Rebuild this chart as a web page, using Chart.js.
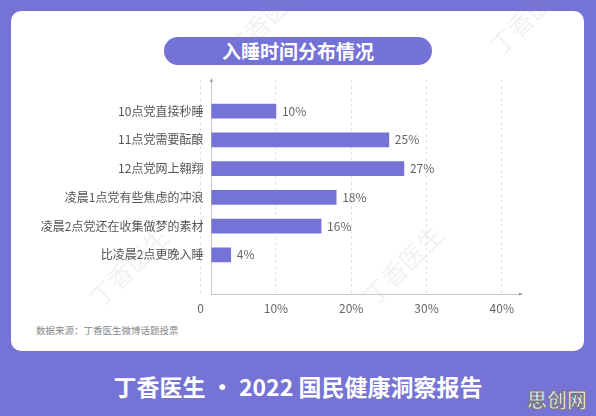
<!DOCTYPE html>
<html>
<head>
<meta charset="utf-8">
<script src="https://cdn.jsdelivr.net/npm/chart.js@4"></script>
<style>
  html, body { margin: 0; padding: 0; }
  body {
    width: 596px; height: 416px; overflow: hidden; position: relative;
    background: #7573d5;
    font-family: "Noto Sans CJK SC", "Noto Sans", sans-serif;
  }
  #card {
    position: absolute; left: 11px; top: 11px; width: 573px; height: 340px;
    background: #fff; border-radius: 10px;
  }
  #pill {
    position: absolute; left: 164px; top: 37px; width: 268px; height: 28px;
    background: #7472d6; border-radius: 14px; color: #fff;
    font-weight: bold; font-size: 19px; line-height: 28px; text-align: center;
  }
  .wm {
    position: absolute; font-size: 25px; color: rgba(150,150,150,0.13);
    transform: rotate(-45deg); white-space: nowrap;
  }
  #source {
    position: absolute; left: 36px; top: 323px; font-size: 9.5px; color: #888;
  }
  #footer {
    position: absolute; left: 0; width: 596px; top: 369px; text-align: center;
    color: #fff; font-weight: bold; font-size: 23px; line-height: 34px;
  }
  #corner {
    position: absolute; left: 527px; top: 385px; font-size: 20px; font-weight: bold;
    color: #f2f2f2; -webkit-text-stroke: 1px #777; letter-spacing: 0px;
  }
  #chart { position: absolute; left: 0; top: 0; }
</style>
</head>
<body>
<div id="card"></div>
<div class="wm" style="left:215px; top:0px;">丁香医生</div>
<div class="wm" style="left:478px; top:-4px;">丁香医生</div>
<div class="wm" style="left:78px; top:248px;">丁香医生</div>
<div class="wm" style="left:352px; top:246px;">丁香医生</div>
<div id="pill">入睡时间分布情况</div>
<div id="source">数据来源：丁香医生微博话题投票</div>
<div id="footer">丁香医生 · 2022 国民健康洞察报告</div>
<div id="corner">思创网</div>
<canvas id="chart" width="596" height="416"></canvas>
<script>
const categories = ['10点党直接秒睡', '11点党需要酝酿', '12点党网上翱翔', '凌晨1点党有些焦虑的冲浪', '凌晨2点党还在收集做梦的素材', '比凌晨2点更晚入睡'];
const shares = [10, 25, 27, 18, 16, 4];
const xTicks = [0, 10, 20, 30, 40];

const valueLabels = {
  id: 'valueLabels',
  afterDatasetsDraw(chart) {
    const c = chart.ctx;
    const meta = chart.getDatasetMeta(0);
    c.save();
    c.font = '12px "Noto Sans CJK SC"';
    c.fillStyle = '#666';
    c.textAlign = 'left';
    c.textBaseline = 'middle';
    meta.data.forEach((bar, i) => {
      c.fillText(shares[i] + '%', bar.x + 6, bar.y);
    });
    // little arrow tips at the axis ends
    const a = chart.chartArea;
    c.fillStyle = '#999';
    c.beginPath();
    c.moveTo(a.left, a.top - 2); c.lineTo(a.left - 1.5, a.top + 2); c.lineTo(a.left + 1.5, a.top + 2);
    c.fill();
    c.beginPath();
    c.moveTo(a.right + 2, a.bottom); c.lineTo(a.right - 2, a.bottom - 1.5); c.lineTo(a.right - 2, a.bottom + 1.5);
    c.fill();
    c.restore();
  }
};

new Chart(document.getElementById('chart'), {
  type: 'bar',
  data: {
    datasets: [{
      data: shares.map((v, i) => ({ x: v, y: i })),
      backgroundColor: '#7573d6',
      barThickness: 14
    }]
  },
  options: {
    indexAxis: 'y',
    responsive: false,
    animation: false,
    layout: { padding: { left: 0, top: 80, right: 75, bottom: 97 } },
    plugins: { legend: { display: false }, tooltip: { enabled: false } },
    scales: {
      x: {
        type: 'linear',
        min: 1.43,
        max: 42.55,
        afterBuildTicks: s => { s.ticks = xTicks.map(v => ({ value: v })); },
        afterFit: s => { s.height = 25; },
        grid: { color: '#e2e2e2', drawTicks: false },
        border: { display: true, color: '#c8c8c8', dash: [3, 3] },
        ticks: {
          autoSkip: false, maxRotation: 0, padding: 7, color: '#666',
          font: { family: 'Noto Sans CJK SC', size: 12 },
          callback: v => v === 0 ? '0' : v + '%'
        }
      },
      y: {
        type: 'linear',
        reverse: true,
        min: -0.464,
        max: 5.739,
        afterBuildTicks: s => { s.ticks = categories.map((c, i) => ({ value: i })); },
        afterFit: s => { s.width = 211.4; },
        grid: { display: false, drawTicks: false },
        border: { display: true, color: '#c8c8c8' },
        ticks: {
          autoSkip: false, padding: 8, color: '#555',
          font: { family: 'Noto Sans CJK SC', size: 12 },
          callback: v => categories[v]
        }
      }
    }
  },
  plugins: [valueLabels]
});
</script>
</body>
</html>
